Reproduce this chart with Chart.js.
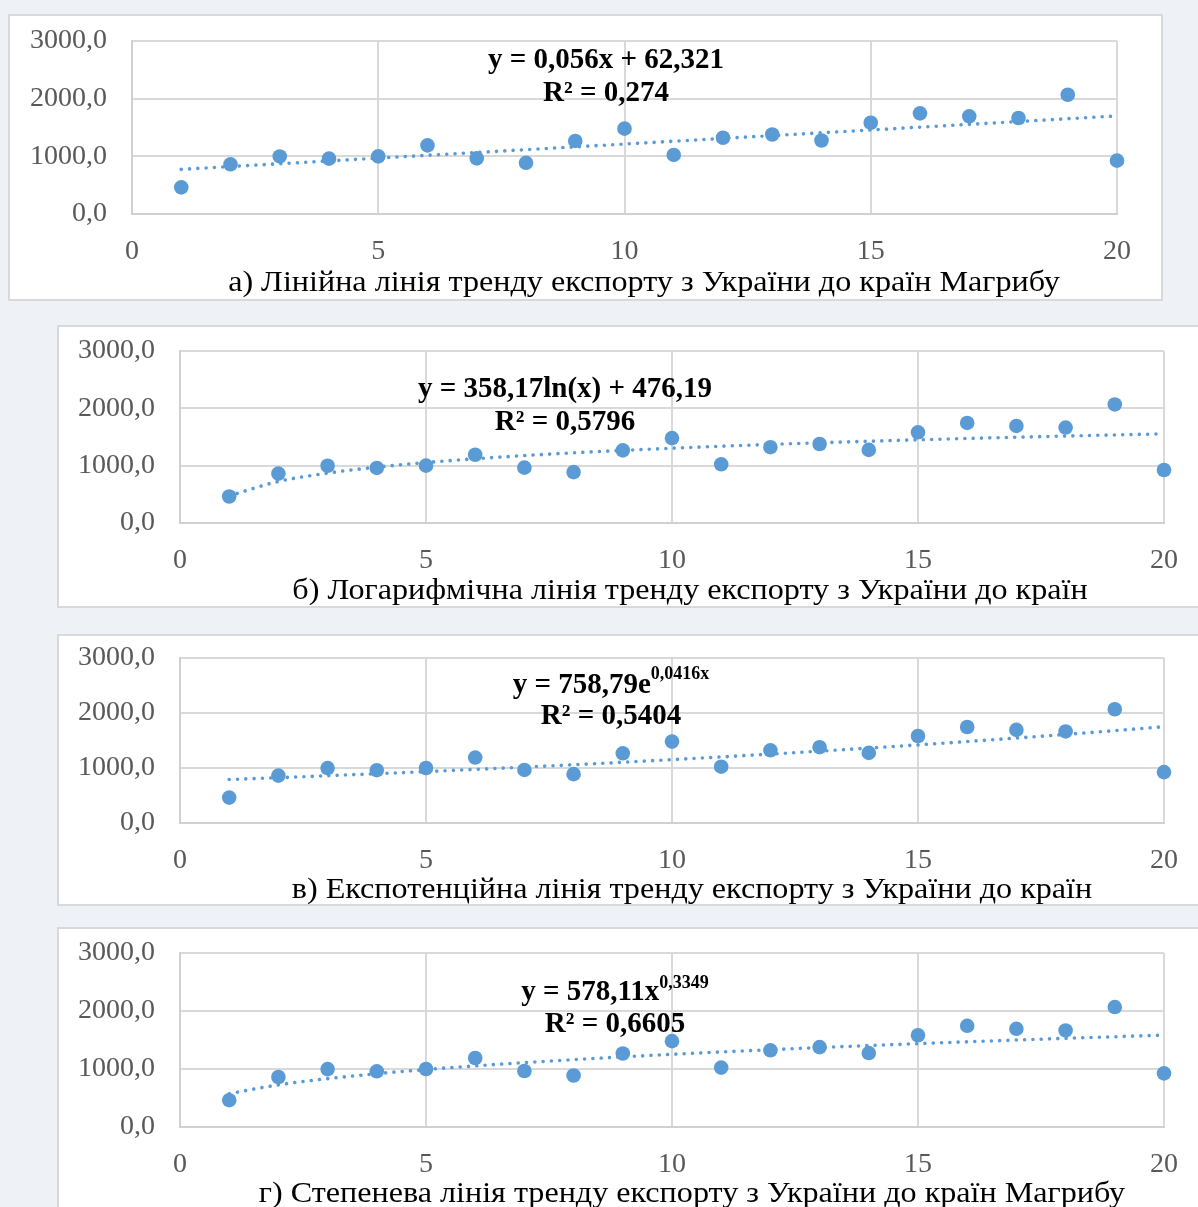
<!DOCTYPE html>
<html><head><meta charset="utf-8">
<script src="https://cdn.jsdelivr.net/npm/chart.js@4.4.1/dist/chart.umd.min.js"></script>
<style>
html,body{margin:0;padding:0;}
body{width:1198px;height:1207px;position:relative;overflow:hidden;background:#eef1f5;font-family:"Liberation Serif","Times New Roman",serif;}
.box{position:absolute;background:#fff;border:2px solid #d9d9d9;box-sizing:border-box;}
.box canvas{position:absolute;left:-2px;top:-2px;}
.txt{position:absolute;white-space:nowrap;line-height:33px;color:#000;z-index:5;}
.eq{font-weight:bold;font-size:29px;transform:translateX(-50%);}
.cap{font-size:29px;transform:translateX(-50%) scaleX(1.108);}
.sup{font-size:18px;position:relative;}
</style></head><body>
<script>
// ---- data ----
const xValues = [1,2,3,4,5,6,7,8,9,10,11,12,13,14,15,16,17,18,19,20];
const exportValues = [462,862,998,960,1000,1190,965,888,1267,1480,1024,1322,1378,1275,1582,1745,1693,1665,2068,925];
const xTickValues = [0,5,10,15,20];
const yTickValues = [0,1000,2000,3000];
const captions = [
  "а) Лінійна лінія тренду експорту з України до країн Магрибу",
  "б) Логарифмічна лінія тренду експорту з України до країн",
  "в) Експотенційна лінія тренду експорту з України до країн",
  "г) Степенева лінія тренду експорту з України до країн Магрибу"
];
const equations = [
  ["y = 0,056x + 62,321", "", "R² = 0,274"],
  ["y = 358,17ln(x) + 476,19", "", "R² = 0,5796"],
  ["y = 758,79e", "0,0416x", "R² = 0,5404"],
  ["y = 578,11x", "0,3349", "R² = 0,6605"]
];
const trendTypes = ["linear","log","exp","power"];

// ---- layout (page px) ----
const panels = [
  {left:8,  top:14,  w:1155, h:287, pl:132, pr:1117, pt:41,  pb:214, eqx:606, eq1:58.5, eq2:91, supTop:-12, capx:644, capy:281},
  {left:57, top:325, w:1160, h:283, pl:180, pr:1164, pt:351, pb:523, eqx:565, eq1:387,  eq2:420,  supTop:-12, capx:690, capy:589},
  {left:57, top:634, w:1160, h:272, pl:180, pr:1164, pt:658, pb:823, eqx:611, eq1:683.5, eq2:714, supTop:-14, capx:692, capy:888},
  {left:57, top:927, w:1160, h:300, pl:180, pr:1164, pt:953, pb:1127, eqx:615, eq1:990, eq2:1022, supTop:-12, capx:692, capy:1192}
];

function fit(type, xs, ys){
  const tx = (type==="log"||type==="power") ? xs.map(Math.log) : xs.slice();
  const ty = (type==="exp"||type==="power") ? ys.map(Math.log) : ys.slice();
  const n = xs.length;
  const mx = tx.reduce((a,b)=>a+b,0)/n, my = ty.reduce((a,b)=>a+b,0)/n;
  let sxy=0,sxx=0;
  for(let i=0;i<n;i++){sxy+=(tx[i]-mx)*(ty[i]-my);sxx+=(tx[i]-mx)*(tx[i]-mx);}
  const b = sxy/sxx, a = my - b*mx;
  return x=>{
    if(type==="linear") return a+b*x;
    if(type==="log") return a+b*Math.log(x);
    if(type==="exp") return Math.exp(a+b*x);
    return Math.exp(a)*Math.pow(x,b);
  };
}

const fontTick = {family:"'Liberation Serif','Times New Roman',serif", size:28};

panels.forEach((p,i)=>{
  const box = document.createElement('div');
  box.className='box';
  box.style.left=p.left+'px'; box.style.top=p.top+'px';
  box.style.width=p.w+'px'; box.style.height=p.h+'px';
  const cv = document.createElement('canvas');
  cv.width=p.w; cv.height=p.h;
  cv.style.width=p.w+'px'; cv.style.height=p.h+'px';
  box.appendChild(cv);
  document.body.appendChild(box);

  const f = fit(trendTypes[i], xValues, exportValues);
  const trend = xValues.map(x=>({x:x, y:f(x)}));
  const pts = xValues.map((x,k)=>({x:x, y:exportValues[k]}));

  const yW = p.pl - p.left, xH = p.h - (p.pb - p.top);
  new Chart(cv, {
    data:{datasets:[
      {type:'scatter', data:pts, backgroundColor:'#5b9bd5', borderWidth:0, pointRadius:7.3, pointHoverRadius:7.3, order:0, clip:false},
      {type:'line', data:trend, borderColor:'#5b9bd5', borderWidth:3.6, borderDash:[0.01,8.3], borderCapStyle:'round',
       pointRadius:0, fill:false, cubicInterpolationMode:'monotone', order:1, clip:false}
    ]},
    options:{
      responsive:false, animation:false, devicePixelRatio:1,
      layout:{padding:{left:0, top:(p.pt-p.top), right:p.w-(p.pr-p.left), bottom:0}},
      plugins:{legend:{display:false}, tooltip:{enabled:false}},
      scales:{
        x:{type:'linear', min:0, max:20,
           afterBuildTicks:s=>{s.ticks=xTickValues.map(v=>({value:v}));},
           afterFit:s=>{s.height=xH;},
           ticks:{font:fontTick, color:'#595959', padding:21, maxRotation:0, autoSkip:false},
           grid:{color:'#d9d9d9', lineWidth:2, drawTicks:false},
           border:{display:true, color:'#d0d0d0', width:2}},
        y:{type:'linear', min:0, max:3000,
           afterBuildTicks:s=>{s.ticks=yTickValues.map(v=>({value:v}));},
           afterFit:s=>{s.width=yW;},
           ticks:{font:fontTick, color:'#595959', padding:0, callback:v=>v.toFixed(1).replace('.',',')},
           grid:{color:'#d9d9d9', lineWidth:2, drawTicks:true, tickLength:25, tickColor:'rgba(0,0,0,0)'},
           border:{display:true, color:'#d0d0d0', width:2}}
      }
    }
  });

  const e = equations[i];
  const l1 = document.createElement('div');
  l1.className='txt eq'; l1.style.left=p.eqx+'px'; l1.style.top=(p.eq1-16.5)+'px';
  l1.appendChild(document.createTextNode(e[0]));
  if(e[1]){const s=document.createElement('span'); s.className='sup'; s.style.top=p.supTop+'px'; s.textContent=e[1]; l1.appendChild(s);}
  document.body.appendChild(l1);
  const l2 = document.createElement('div');
  l2.className='txt eq'; l2.style.left=p.eqx+'px'; l2.style.top=(p.eq2-16.5)+'px';
  l2.textContent=e[2];
  document.body.appendChild(l2);
  const c = document.createElement('div');
  c.className='txt cap'; c.style.left=p.capx+'px'; c.style.top=(p.capy-16.5)+'px';
  c.textContent=captions[i];
  document.body.appendChild(c);
});
</script>
</body></html>
